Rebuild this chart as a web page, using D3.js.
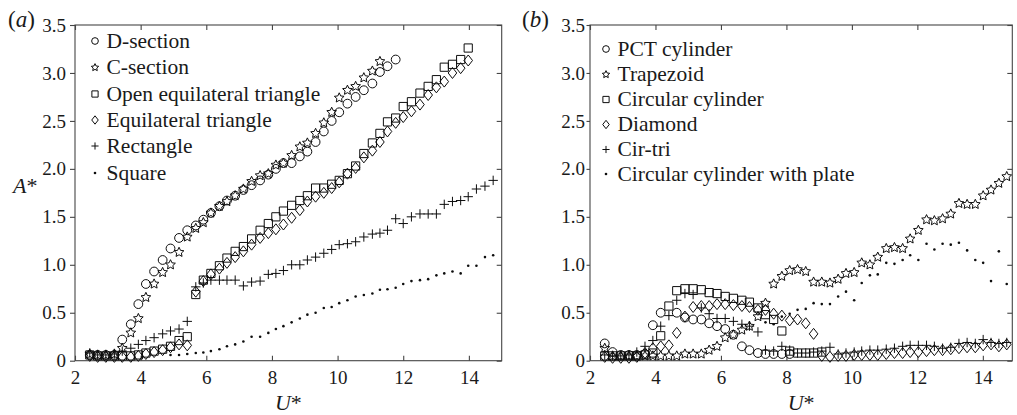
<!DOCTYPE html>
<html><head><meta charset="utf-8">
<script src="https://cdn.jsdelivr.net/npm/d3@7"></script>
<style>
body{margin:0;background:#fff}
svg{display:block}
</style>
</head><body>
<svg id="c" width="1017" height="415"></svg>
<script>
// ---------------- DATA: panel (a) ----------------
const dSectionU = [2.45,2.69,2.94,3.20,3.44,3.70,3.93,4.16,4.41,4.67,4.91,5.17,5.42,5.68,5.91,6.14,6.40,6.63,6.88,7.13,7.38,7.64,7.89,8.12,8.35,8.60,8.85,9.08,9.33,9.58,9.82,10.05,10.30,10.55,10.80,11.06,11.29,11.52,11.77];
const dSectionA = [0.06,0.06,0.06,0.06,0.22,0.38,0.59,0.80,0.93,1.05,1.17,1.28,1.36,1.41,1.47,1.54,1.61,1.67,1.72,1.78,1.83,1.88,1.94,2.00,2.06,2.06,2.13,2.18,2.28,2.39,2.50,2.59,2.68,2.75,2.82,2.89,3.01,3.07,3.14];
const cSectionU = [2.45,2.69,2.94,3.20,3.44,3.70,3.93,4.16,4.41,4.67,4.91,5.17,5.42,5.68,5.91,6.14,6.40,6.63,6.88,7.13,7.38,7.64,7.89,8.12,8.35,8.60,8.85,9.08,9.33,9.58,9.82,10.05,10.30,10.55,10.80,11.06,11.29];
const cSectionA = [0.07,0.06,0.06,0.07,0.13,0.29,0.44,0.66,0.80,0.92,1.00,1.13,1.29,1.38,1.44,1.54,1.61,1.66,1.72,1.79,1.87,1.93,1.95,2.04,2.06,2.14,2.23,2.27,2.37,2.48,2.59,2.74,2.82,2.86,2.95,3.02,3.12];
const openTriU = [2.45,2.69,2.94,3.20,3.44,3.70,3.93,4.16,4.41,4.67,4.91,5.17,5.42,5.68,5.91,6.14,6.40,6.63,6.88,7.13,7.38,7.64,7.89,8.12,8.35,8.60,8.85,9.08,9.33,9.58,9.82,10.05,10.30,10.55,10.80,11.06,11.29,11.52,11.77,12.00,12.25,12.51,12.76,13.01,13.25,13.50,13.75,13.98];
const openTriA = [0.06,0.05,0.05,0.05,0.05,0.05,0.06,0.08,0.10,0.12,0.15,0.21,0.25,0.69,0.84,0.91,0.99,1.07,1.14,1.19,1.27,1.36,1.43,1.50,1.56,1.62,1.67,1.72,1.80,1.80,1.84,1.88,1.95,2.03,2.16,2.27,2.37,2.49,2.53,2.65,2.70,2.79,2.86,2.93,3.06,3.09,3.14,3.26];
const eqTriU = [2.45,2.69,2.94,3.20,3.44,3.70,3.93,4.16,4.41,4.67,4.91,5.17,5.42,5.68,5.91,6.14,6.40,6.63,6.88,7.13,7.38,7.64,7.89,8.12,8.35,8.60,8.85,9.08,9.33,9.58,9.82,10.05,10.30,10.55,10.80,11.06,11.29,11.52,11.77,12.00,12.25,12.51,12.76,13.01,13.25,13.50,13.75,13.98];
const eqTriA = [0.05,0.04,0.04,0.04,0.04,0.04,0.05,0.07,0.09,0.11,0.14,0.17,0.16,0.72,0.83,0.90,0.96,1.02,1.08,1.14,1.21,1.28,1.33,1.37,1.42,1.49,1.57,1.66,1.71,1.75,1.80,1.86,1.95,2.01,2.12,2.19,2.28,2.39,2.48,2.54,2.60,2.67,2.77,2.85,2.91,3.00,3.05,3.13];
const rectU = [2.45,2.69,2.94,3.20,3.44,3.70,3.93,4.16,4.41,4.67,4.91,5.17,5.42,5.68,5.91,6.14,6.40,6.63,6.88,7.13,7.38,7.64,7.89,8.12,8.35,8.60,8.85,9.08,9.33,9.58,9.82,10.05,10.30,10.55,10.80,11.06,11.29,11.52,11.77,12.00,12.25,12.51,12.76,13.01,13.25,13.50,13.75,13.98,14.23,14.49,14.74];
const rectA = [0.08,0.06,0.06,0.07,0.10,0.13,0.17,0.21,0.24,0.28,0.31,0.33,0.41,0.77,0.81,0.84,0.84,0.84,0.84,0.78,0.82,0.83,0.90,0.91,0.94,1.00,1.00,1.05,1.08,1.12,1.16,1.21,1.22,1.24,1.29,1.32,1.33,1.36,1.48,1.43,1.50,1.53,1.53,1.53,1.63,1.66,1.67,1.71,1.79,1.82,1.88];
const squareU = [4.91,5.17,5.42,5.68,5.91,6.14,6.40,6.63,6.88,7.13,7.38,7.64,7.89,8.12,8.35,8.60,8.85,9.08,9.33,9.58,9.82,10.05,10.30,10.55,10.80,11.06,11.29,11.52,11.77,12.00,12.25,12.51,12.76,13.01,13.25,13.50,13.75,13.98,14.23,14.49,14.74];
const squareA = [0.06,0.06,0.07,0.08,0.085,0.10,0.12,0.15,0.17,0.20,0.25,0.25,0.29,0.33,0.36,0.40,0.44,0.48,0.50,0.55,0.56,0.60,0.63,0.67,0.685,0.70,0.74,0.745,0.76,0.80,0.83,0.84,0.85,0.89,0.91,0.93,0.91,0.99,0.99,1.08,1.10];

// ---------------- DATA: panel (b) ----------------
const pctU = [2.45,2.69,2.94,3.19,3.43,3.68,3.92,4.16,4.65,4.90,5.15,5.40,5.64,5.88,6.13,6.38,6.64,6.87,7.13,7.36,7.61,7.86,8.10];
const pctA = [0.18,0.09,0.06,0.06,0.06,0.07,0.37,0.50,0.50,0.45,0.43,0.43,0.39,0.36,0.33,0.27,0.15,0.11,0.08,0.07,0.07,0.07,0.07];
const trapU = [2.45,2.69,2.94,3.19,3.43,3.68,3.92,4.16,4.41,4.65,4.90,5.15,5.40,5.64,5.88,6.13,6.38,6.64,6.87,7.13,7.36,7.61,7.86,8.10,8.34,8.59,8.83,9.08,9.33,9.58,9.82,10.07,10.30,10.55,10.79,11.05,11.30,11.55,11.78,12.03,12.28,12.52,12.77,13.02,13.27,13.52,13.77,14.01,14.25,14.49,14.73];
const trapA = [0.13,0.05,0.05,0.05,0.05,0.05,0.05,0.05,0.05,0.05,0.07,0.07,0.07,0.11,0.15,0.24,0.27,0.32,0.36,0.46,0.60,0.80,0.88,0.94,0.95,0.93,0.82,0.82,0.81,0.85,0.91,0.92,1.02,1.00,1.08,1.17,1.18,1.17,1.27,1.36,1.47,1.46,1.48,1.53,1.64,1.63,1.63,1.72,1.78,1.85,1.92];
const circU = [2.45,2.69,2.94,3.19,3.43,3.68,3.92,4.16,4.41,4.65,4.90,5.15,5.40,5.64,5.88,6.13,6.38,6.64,6.87,7.13,7.36,7.61,7.86,8.10,8.34,8.59,8.83,9.08];
const circA = [0.05,0.05,0.05,0.05,0.05,0.06,0.08,0.26,0.57,0.73,0.75,0.75,0.74,0.71,0.70,0.67,0.65,0.63,0.61,0.55,0.48,0.43,0.31,0.10,0.08,0.08,0.08,0.09];
const diamondU = [2.45,2.69,2.94,3.19,3.43,3.68,3.92,4.16,4.41,4.65,4.90,5.15,5.40,5.64,5.88,6.13,6.38,6.64,6.87,7.13,7.36,7.61,7.86,8.10,8.34,8.59,8.83,9.08,9.33,9.58,9.82,10.07,10.30,10.55,10.79,11.05,11.30,11.55,11.78,12.03,12.28,12.52,12.77,13.02,13.27,13.52,13.77,14.01,14.25,14.49,14.73];
const diamondA = [0.04,0.03,0.03,0.03,0.04,0.08,0.13,0.15,0.16,0.29,0.46,0.56,0.57,0.57,0.59,0.59,0.58,0.57,0.56,0.53,0.53,0.49,0.47,0.42,0.43,0.39,0.28,0.05,0.04,0.05,0.05,0.06,0.06,0.06,0.06,0.07,0.08,0.08,0.09,0.09,0.10,0.11,0.11,0.12,0.13,0.14,0.14,0.16,0.17,0.15,0.17];
const cirTriU = [2.45,2.69,2.94,3.19,3.43,3.68,3.92,4.16,4.41,4.65,4.90,5.15,5.40,5.64,5.88,6.13,6.38,6.64,6.87,7.13,7.36,7.61,7.86,8.10,8.34,8.59,8.83,9.08,9.33,9.58,9.82,10.07,10.30,10.55,10.79,11.05,11.30,11.55,11.78,12.03,12.28,12.52,12.77,13.02,13.27,13.52,13.77,14.01,14.25,14.49,14.73];
const cirTriA = [0.06,0.05,0.05,0.06,0.09,0.15,0.21,0.36,0.47,0.63,0.70,0.69,0.55,0.49,0.44,0.44,0.41,0.38,0.36,0.30,0.11,0.10,0.15,0.11,0.08,0.08,0.09,0.10,0.14,0.07,0.08,0.09,0.10,0.11,0.11,0.12,0.13,0.15,0.16,0.16,0.16,0.15,0.13,0.14,0.18,0.19,0.18,0.22,0.19,0.18,0.19];
const plateU = [7.36,7.61,7.86,8.10,8.34,8.59,8.83,9.08,9.33,9.58,9.82,10.07,10.30,10.55,10.79,11.05,11.30,11.55,11.78,12.03,12.28,12.52,12.77,13.02,13.27,13.52,13.77,14.01,14.25,14.49,14.73];
const plateA = [0.40,0.38,0.46,0.49,0.53,0.54,0.60,0.59,0.59,0.67,0.72,0.63,0.81,0.89,0.90,1.02,1.01,1.05,1.10,1.05,1.22,1.16,1.22,1.21,1.23,1.15,1.05,1.02,0.83,1.14,0.80];

// ---------------- AXES / LABELS ----------------
const xTicks = [2,4,6,8,10,12,14];
const yTicks = [0,0.5,1.0,1.5,2.0,2.5,3.0,3.5];
const legendA = ["D-section","C-section","Open equilateral triangle","Equilateral triangle","Rectangle","Square"];
const legendB = ["PCT cylinder","Trapezoid","Circular cylinder","Diamond","Cir-tri","Circular cylinder with plate"];

// ---------------- DRAWING ----------------
const FONT = '"Liberation Serif", Tinos, "Times New Roman", "Nimbus Roman", "DejaVu Serif", serif';
const svg = d3.select('#c');
const INK = "#0d0d0d";
const FRAME = "#454545";

const markers = {
  circle: s => { const r = 4.4*s; return `M${r},0A${r},${r} 0 1,1 ${-r},0A${r},${r} 0 1,1 ${r},0Z`; },
  star: s => { const R = 5.1*s, r = R*0.48; let p=""; for(let i=0;i<10;i++){const a=-Math.PI/2+i*Math.PI/5; const rr=i%2?r:R; p+=(i?"L":"M")+(rr*Math.cos(a)).toFixed(2)+","+(rr*Math.sin(a)).toFixed(2);} return p+"Z"; },
  square: s => { const h = 4.1*s; return `M${-h},${-h}H${h}V${h}H${-h}Z`; },
  diamond: s => { const w = 4.3*s, h = 5.5*s; return `M0,${-h}L${w},0L0,${h}L${-w},0Z`; },
  plus: s => { const h = 4.7*s; return `M${-h},0H${h}M0,${-h}V${h}`; },
  dot: s => { const r = 1.3; return `M${r},0A${r},${r} 0 1,1 ${-r},0A${r},${r} 0 1,1 ${r},0Z`; }
};
function drawMarker(g, type, x, y, s) {
  g.append("path").attr("d", markers[type](s)).attr("transform", `translate(${x},${y})`)
    .attr("fill", type==="dot" ? INK : "none")
    .attr("stroke", type==="dot" ? "none" : INK)
    .attr("stroke-width", 1);
}
function txt(g) { return g.append("text").attr("font-family", FONT).style("font-family", FONT).attr("fill", "#1a1a1a"); }

function panel(cfg) {
  const x = d3.scaleLinear().domain(cfg.xDomain).range([cfg.left, cfg.right]);
  const y = d3.scaleLinear().domain([0,3.5]).range([360.7, 25]);
  const g = svg.append("g");
  g.append("rect").attr("x", cfg.left).attr("y", 25).attr("width", cfg.right-cfg.left).attr("height", 360.7-25)
    .attr("fill","none").attr("stroke",FRAME).attr("stroke-width",1.1);
  const yfmt = d => d===0 ? "0" : d3.format(".1f")(d);
  g.append("g").attr("transform",`translate(${cfg.left},0)`)
    .call(d3.axisLeft(y).tickValues(yTicks).tickFormat(yfmt).tickSize(cfg.yTick).tickPadding(cfg.yPad));
  const ax = g.append("g").attr("transform",`translate(0,360.7)`)
    .call(d3.axisBottom(x).tickValues(xTicks).tickSize(-5).tickPadding(10));
  g.append("g").attr("transform",`translate(0,25)`).call(d3.axisTop(x).tickValues(xTicks).tickSize(-5).tickFormat(""));
  g.append("g").attr("transform",`translate(${cfg.right},0)`).call(d3.axisRight(y).tickValues(yTicks).tickSize(-5).tickFormat(""));
  g.selectAll(".domain").remove();
  g.selectAll(".tick line").attr("stroke",FRAME).attr("stroke-width",1.1);
  g.selectAll("g").attr("font-family", FONT);
  g.selectAll(".tick text").style("font-family", FONT).attr("font-size",19).attr("fill","#1a1a1a");
  ax.selectAll(".tick text").attr("dy","0.71em");
  const pts = g.append("g");
  cfg.series.forEach(s => {
    s.u.forEach((u,i) => drawMarker(pts, s.m, x(u), y(s.a[i]), 1));
  });
  const lg = g.append("g");
  cfg.series.forEach((s,i) => {
    const cy = cfg.legRows[i];
    drawMarker(lg, s.m, cfg.legX, cy, 0.76);
    txt(lg).attr("x", cfg.legX+11.5).attr("y", cy+6.5).attr("font-size",21.5).text(cfg.names[i]);
  });
  const pl = txt(svg).attr("x", cfg.labelX).attr("y", 27).attr("font-size", 23);
  pl.append("tspan").text("(");
  pl.append("tspan").attr("font-style","italic").text(cfg.tag);
  pl.append("tspan").text(")");
  const ul = txt(svg).attr("x", (cfg.left+cfg.right)/2).attr("y", 410).attr("text-anchor","middle").attr("font-size",22);
  ul.append("tspan").attr("font-style","italic").text("U");
  ul.append("tspan").text("*");
  return {x,y};
}

panel({
  left:75, right:501.7, xDomain:[2,15], yPad:4, yTick:5, legX:95,
  legRows:[41,67.5,94,120,146,173], names:legendA, tag:"a", labelX:8,
  series:[
    {m:"circle", u:dSectionU, a:dSectionA},
    {m:"star", u:cSectionU, a:cSectionA},
    {m:"square", u:openTriU, a:openTriA},
    {m:"diamond", u:eqTriU, a:eqTriA},
    {m:"plus", u:rectU, a:rectA},
    {m:"dot", u:squareU, a:squareA}
  ]
});
panel({
  left:590, right:1012.3, xDomain:[2,14.9], yPad:1.5, yTick:3.5, legX:606,
  legRows:[49,74.5,99.5,124.5,149.5,174], names:legendB, tag:"b", labelX:522,
  series:[
    {m:"circle", u:pctU, a:pctA},
    {m:"star", u:trapU, a:trapA},
    {m:"square", u:circU, a:circA},
    {m:"diamond", u:diamondU, a:diamondA},
    {m:"plus", u:cirTriU, a:cirTriA},
    {m:"dot", u:plateU, a:plateA}
  ]
});
const al = txt(svg).attr("x", 13).attr("y", 193).attr("font-size", 22);
al.append("tspan").attr("font-style","italic").text("A");
al.append("tspan").text("*");
</script>
</body></html>
